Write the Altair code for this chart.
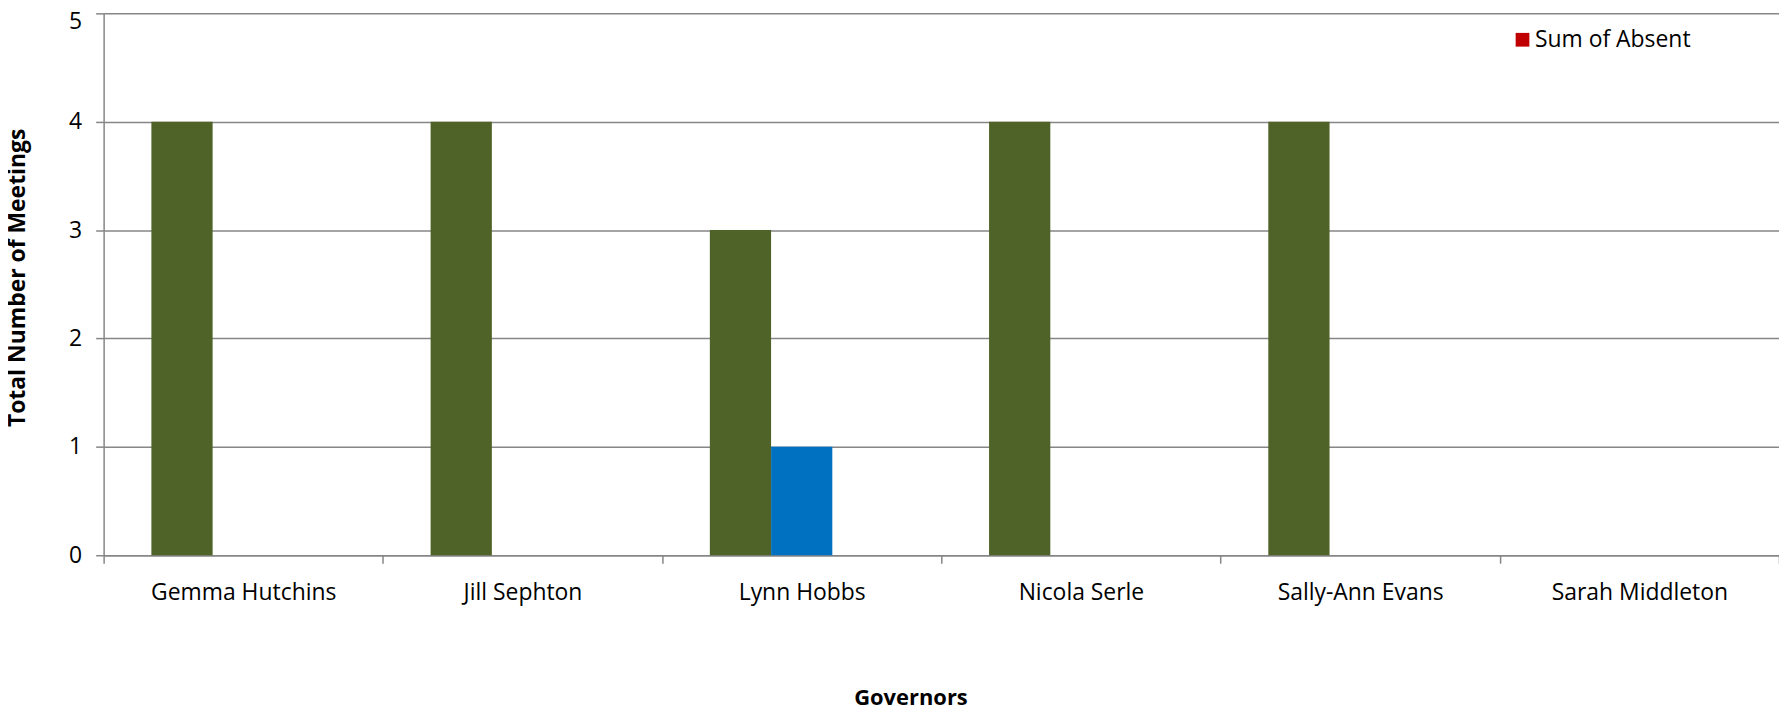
import altair as alt
import pandas as pd

governors = ["Gemma Hutchins", "Jill Sephton", "Lynn Hobbs", "Nicola Serle", "Sally-Ann Evans", "Sarah Middleton"]
series = ["Sum of Attended", "Sum of Apologies", "Sum of Absent"]
attended = [4, 4, 3, 4, 4, 0]
apologies = [0, 0, 1, 0, 0, 0]
absent = [0, 0, 0, 0, 0, 0]
colors = ["#4F6228", "#0070C0", "#C00000"]

rows = []
for i, g in enumerate(governors):
    for s, vals in zip(series, [attended, apologies, absent]):
        rows.append({"Governor": g, "Series": s, "Value": vals[i]})
df = pd.DataFrame(rows)

FONT = "Open Sans"
GRID = "#868686"

chart = alt.Chart(df).mark_bar().encode(
    x=alt.X("Governor:N", sort=governors,
            scale=alt.Scale(paddingInner=0, paddingOuter=0),
            axis=alt.Axis(title="Governors", labelAngle=0, tickBand="extent", labelLimit=0,
                          labelFont=FONT, labelFontSize=23, labelColor="#000000",
                          labelPadding=18, tickSize=8, tickColor=GRID, tickWidth=1.5,
                          domainColor=GRID, domainWidth=1.5,
                          titleFont=FONT, titleFontSize=22, titleFontWeight="bold",
                          titleColor="#000000", titlePadding=84,
                          titleX=810, titleAlign="center", grid=False)),
    xOffset=alt.XOffset("Series:N", sort=series,
                        scale=alt.Scale(paddingInner=0, paddingOuter=0.78)),
    y=alt.Y("Value:Q", scale=alt.Scale(domain=[0, 5]),
            axis=alt.Axis(title="Total Number of Meetings", values=[0, 1, 2, 3, 4, 5],
                          format="d", labelFont=FONT, labelFontSize=23,
                          labelColor="#000000", labelPadding=14, tickSize=8,
                          labelOffset={"condition": {"test": "datum.value == 5", "value": 8}, "value": 0},
                          tickColor=GRID, tickWidth=1.5, domainColor=GRID, domainWidth=1.5,
                          gridColor=GRID, gridWidth=1.5,
                          titleFont=FONT, titleFontSize=23, titleFontWeight="bold",
                          titleColor="#000000", titlePadding=39, titleY=265)),
    color=alt.Color("Series:N", sort=series,
                    scale=alt.Scale(domain=series, range=colors),
                    legend=alt.Legend(title=None, values=["Sum of Absent"], orient="none",
                                      legendX=1413, legendY=15, symbolType="square",
                                      symbolSize=190, symbolStrokeWidth=0,
                                      labelFont=FONT, labelFontSize=23, labelColor="#000000",
                                      padding=0, labelOffset=1)),
).properties(
    width=1682, height=544,
    autosize=alt.AutoSizeParams(type="none"),
    padding={"left": 96, "top": 4, "right": 0, "bottom": 154},
).configure_view(stroke=None)

chart.save("out.html", embed_options={"renderer": "svg", "actions": False})
